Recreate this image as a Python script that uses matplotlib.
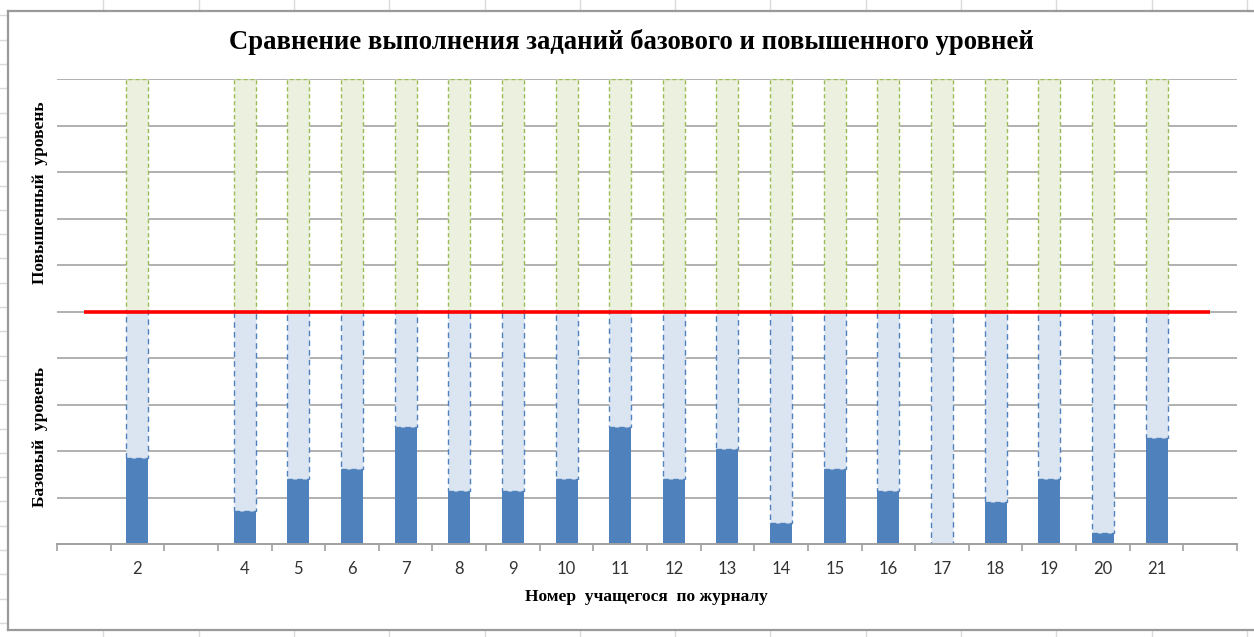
import numpy as np
import matplotlib
matplotlib.use("Agg")
import matplotlib.pyplot as plt
from matplotlib.lines import Line2D

# ---------------- data ----------------
students = ['', '2', '', '4', '5', '6', '7', '8', '9', '10', '11', '12', '13',
            '14', '15', '16', '17', '18', '19', '20', '21', '']
base_done = [np.nan, 1.84, np.nan, 0.72, 1.39, 1.61, 2.52, 1.13, 1.13, 1.39, 2.52,
             1.39, 2.04, 0.45, 1.61, 1.13, 0.0, 0.91, 1.39, 0.24, 2.29, np.nan]
base_max = 5.0
advanced_level = [np.nan, 5, np.nan, 5, 5, 5, 5, 5, 5, 5, 5, 5, 5, 5, 5, 5, 5, 5,
                  5, 5, 5, np.nan]
threshold = [5.0] * len(students)

title = 'Сравнение выполнения заданий базового и повышенного уровней'
xlabel = 'Номер  учащегося  по журналу'
ylabel_top = 'Повышенный  уровень'
ylabel_bottom = 'Базовый  уровень'

# ---------------- figure ----------------
W, H = 1254, 637
fig = plt.figure(figsize=(W / 100, H / 100), dpi=100)
fig.patch.set_facecolor('white')

def fx(px):
    return px / W

def fy(py):
    return 1 - py / H

# spreadsheet background grid (decor around chart)
cell_col = '#dadada'
xs = [103.3 + 95.3 * k for k in range(13)]
for xv in xs:
    fig.add_artist(Line2D([fx(xv), fx(xv)], [fy(0), fy(11)], color=cell_col, lw=1.0))
    fig.add_artist(Line2D([fx(xv), fx(xv)], [fy(630), fy(637)], color=cell_col, lw=1.0))
yv = 622.9
while yv > 0:
    fig.add_artist(Line2D([fx(0), fx(8)], [fy(yv), fy(yv)], color=cell_col, lw=1.0))
    yv -= 24.3
fig.add_artist(Line2D([fx(1247), fx(1254)], [fy(11), fy(11)], color=cell_col, lw=1.0))

# chart area border
border_col = '#9a9a9a'
fig.add_artist(Line2D([fx(8), fx(8)], [fy(11), fy(630)], color=border_col, lw=1.6))
fig.add_artist(Line2D([fx(8), fx(1254)], [fy(11), fy(11)], color=border_col, lw=1.6))
fig.add_artist(Line2D([fx(8), fx(1254)], [fy(630), fy(630)], color=border_col, lw=1.6))

# plot area
left, right, top, bottom = 57, 1237, 79, 544
ax = fig.add_axes([fx(left), fy(bottom), fx(right - left), (bottom - top) / H])
ax.set_facecolor('none')

n = len(students)
x = np.arange(n)
base = np.array(base_done, dtype=float)
adv = np.array(advanced_level, dtype=float)
rest = base_max - base
bw = 0.41

ax.bar(x, base, width=bw, color='#4f81bd', edgecolor='none', zorder=3)
ax.bar(x, rest, bottom=base, width=bw, color='#dbe5f1', edgecolor='#4f81bd',
       linestyle=(0, (4, 3)), linewidth=1.0, zorder=3)
ax.bar(x, adv, bottom=base_max, width=bw, color='#ebf1de', edgecolor='#9bbb59',
       linestyle=(0, (3, 2)), linewidth=1.0, zorder=3)
ax.plot(x, threshold, color='#ff0000', lw=2.6, zorder=5, solid_capstyle='butt')

ax.set_xlim(-0.5, n - 0.5)
ax.set_ylim(0, 10)
ax.set_yticks(np.arange(1, 11))
ax.yaxis.grid(True, color='#a3a3a3', lw=1.2, zorder=0)
ax.tick_params(axis='y', length=0, labelleft=False)

ax.set_xticks(np.arange(-0.5, n, 1.0))
ax.tick_params(axis='x', which='major', length=5, width=1.2, color='#a0a0a0',
               direction='out', labelbottom=False)
ax.set_xticks(x, minor=True)
ax.set_xticklabels(students, minor=True)
ax.tick_params(axis='x', which='minor', length=0, pad=12, labelsize=12,
               labelcolor='#333333')
for lab in ax.get_xticklabels(minor=True):
    lab.set_family(['Lato', 'DejaVu Sans'])

for s in ['top', 'right', 'left']:
    ax.spines[s].set_visible(False)
ax.spines['bottom'].set_color('#a0a0a0')
ax.spines['bottom'].set_linewidth(1.4)
ax.spines['bottom'].set_zorder(4)

serif = ['Liberation Serif', 'DejaVu Serif']
fig.text(fx(631), fy(42), title, ha='center', va='center', fontsize=19.2,
         fontweight='bold', family=serif, color='#000000')
fig.text(fx(646), fy(597), xlabel, ha='center', va='center', fontsize=12.5,
         fontweight='bold', family=serif, color='#000000')
fig.text(fx(40), fy(193), ylabel_top, ha='center', va='center', rotation=90,
         fontsize=12.5, fontweight='bold', family=serif, color='#000000')
fig.text(fx(40), fy(437), ylabel_bottom, ha='center', va='center', rotation=90,
         fontsize=12.5, fontweight='bold', family=serif, color='#000000')

fig.savefig('out.png', dpi=100)
